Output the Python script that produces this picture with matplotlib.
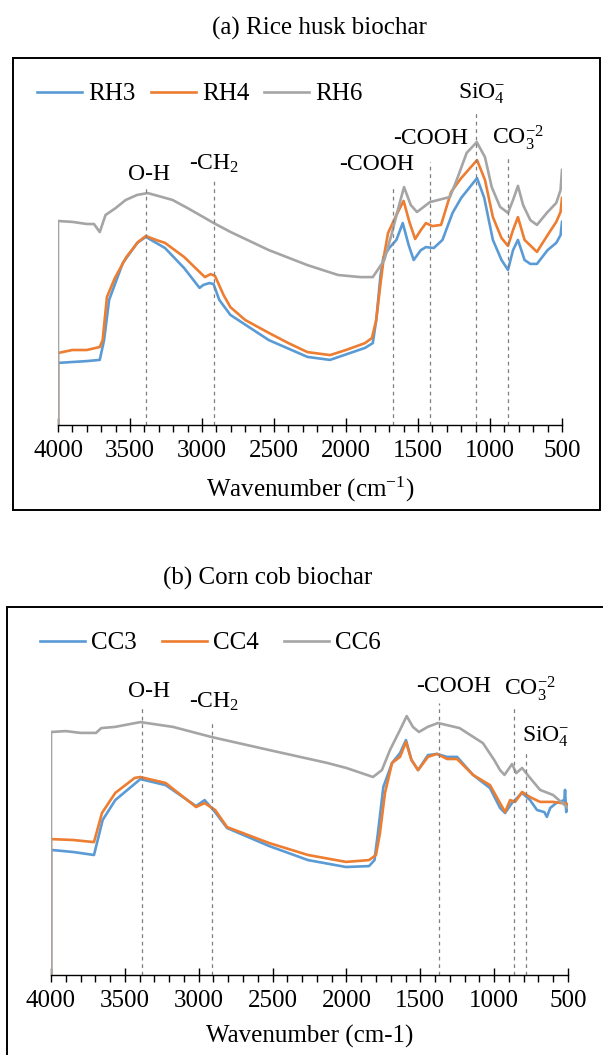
import matplotlib
matplotlib.use("Agg")
import matplotlib.pyplot as plt
from matplotlib.patches import Rectangle
from matplotlib.ticker import MultipleLocator

plt.rcParams['font.family'] = ['Liberation Serif', 'DejaVu Serif']
plt.rcParams['mathtext.fontset'] = 'custom'
plt.rcParams['mathtext.rm'] = 'Liberation Serif'
plt.rcParams['mathtext.it'] = 'Liberation Serif:italic'
plt.rcParams['mathtext.bf'] = 'Liberation Serif:bold'

# ---------------- data: (a) rice husk biochar ----------------
rh6_w = [4000, 4000, 3900, 3800, 3750, 3710, 3670, 3600, 3530, 3450, 3377, 3300, 3204, 3100, 2990, 2918,
         2800, 2536, 2268, 2055, 1900, 1814, 1780, 1734, 1681, 1640, 1597, 1550, 1507, 1417, 1278, 1231,
         1162, 1092, 1035, 988, 930, 875, 840, 806, 770, 720, 674, 600, 540, 510, 500]
rh6_v = [0, 68, 67.7, 67, 67, 64.3, 70, 72.3, 75, 76.7, 77.3, 76.3, 75, 72.3, 69.3, 67.3,
         64.3, 58.3, 53.3, 50, 49.3, 49.3, 51.7, 55, 64, 71.7, 79.3, 73.3, 71, 74.3, 76, 81.7,
         90.7, 94.3, 89.3, 79.3, 72.7, 70.7, 75, 79.7, 73.3, 68.3, 66.7, 71, 74, 78.3, 85]

rh4_w = [4000, 4000, 3900, 3800, 3710, 3690, 3660, 3605, 3525, 3444, 3390, 3320, 3257, 3124, 3017, 2980,
         2940, 2910, 2850, 2803, 2700, 2536, 2400, 2268, 2111, 2000, 1868, 1820, 1790, 1760, 1735, 1708,
         1650, 1600, 1560, 1520, 1480, 1445, 1400, 1340, 1270, 1200, 1090, 1035, 980, 920, 875, 840,
         806, 760, 674, 600, 540, 510, 500]
rh4_v = [0, 24, 25, 25, 26, 28.3, 42.7, 49, 56, 61, 63, 61.7, 60.7, 56, 51, 49.3,
         50.3, 49.7, 43.3, 39.3, 35, 30.7, 27.3, 24.3, 23.3, 25, 27.3, 29, 35, 47.3, 56.7, 64,
         70, 74.7, 67.7, 62, 65, 67.3, 66.3, 66.7, 77.7, 82.3, 88.3, 81.7, 69.3, 62.3, 59.7, 65,
         69.3, 61.7, 57.7, 63.3, 67.7, 71, 75.7]

rh3_w = [4000, 4000, 3900, 3800, 3710, 3680, 3645, 3550, 3450, 3390, 3257, 3124, 3017, 2990, 2950, 2920,
         2880, 2803, 2536, 2268, 2111, 1868, 1814, 1790, 1760, 1740, 1700, 1650, 1606, 1565, 1530, 1480,
         1445, 1390, 1330, 1260, 1200, 1090, 1040, 980, 920, 875, 840, 806, 760, 720, 674, 600,
         540, 510, 500]
rh3_v = [0, 20.7, 21, 21.3, 21.7, 28.3, 41.7, 54, 60.7, 62.7, 59, 52.3, 45.7, 46.7, 47.3, 47,
         41.7, 36.7, 28.3, 22.7, 21.7, 25.7, 27.3, 35, 50, 56, 59, 61.7, 67.3, 60, 55, 58.3,
         59.3, 59, 61.7, 70.7, 75.7, 82.3, 75.7, 61.7, 55, 51.7, 58.3, 61.7, 55, 53.7, 53.7, 58.3,
         60.7, 63.3, 67.7]

# ---------------- data: (b) corn cob biochar ----------------
cc6_w = [4000, 4000, 3900, 3800, 3695, 3660, 3567, 3395, 3174, 2911, 2524, 2314, 2131, 2000, 1820, 1760,
         1705, 1637, 1592, 1550, 1509, 1450, 1380, 1234, 1076, 1000, 960, 930, 879, 850, 811, 757,
         689, 601, 500]
cc6_v = [0, 81, 81.3, 80.7, 80.7, 82.3, 82.7, 84.3, 82.7, 79.3, 75, 72.7, 70.7, 69, 66, 68.3,
         75, 81.7, 86.3, 82.7, 81, 82.7, 84, 82.3, 77.3, 71.7, 68.3, 66.7, 70.3, 67.3, 69, 65.7,
         61.7, 60, 55.7]

cc4_w = [4000, 4000, 3850, 3709, 3655, 3565, 3433, 3395, 3224, 3018, 2960, 2889, 2808, 2524, 2260, 2003,
         1847, 1800, 1773, 1739, 1691, 1637, 1597, 1560, 1515, 1448, 1387, 1319, 1251, 1143, 1028, 960,
         926, 892, 858, 811, 757, 689, 601, 500]
cc4_v = [0, 45.3, 45, 44.3, 54, 60.7, 65.7, 66, 64, 56, 57.3, 55, 49.3, 44, 40, 37.7,
         38.3, 40, 47.3, 60.7, 70.7, 72.7, 77.7, 71.7, 68.3, 72.7, 73.7, 72, 72, 66.7, 63.3, 57.3,
         54.3, 58.3, 57.7, 61, 59.3, 57.7, 57.7, 57]

cc3_w = [4000, 4000, 3850, 3709, 3650, 3565, 3395, 3224, 3018, 2960, 2889, 2808, 2524, 2260, 2003, 1847,
         1810, 1787, 1750, 1691, 1637, 1597, 1560, 1515, 1448, 1387, 1319, 1251, 1143, 1028, 960, 926,
         880, 811, 757, 710, 660, 643, 620, 580, 525, 520, 512, 500]
cc3_v = [0, 41.7, 41, 40, 51.7, 58.3, 65.3, 63.3, 56.3, 58.3, 54.3, 49, 43, 38.3, 36, 36.3,
         38.3, 47.3, 62.7, 70.7, 74, 78.3, 71.7, 68.3, 73.3, 73.7, 72.7, 72.7, 66.7, 62.3, 55.7, 54,
         57.3, 60.7, 58.3, 55, 54.3, 52.7, 55.7, 57.3, 58.3, 61.7, 54.3, 56.7]

# annotations: label, text x (cm-1), text baseline, dashed-line x, dashed-line top
a_labels = ["O-H", "-CH$_2$", "-COOH", "-COOH", "SiO$_4^{-}$", "CO$_3^{-2}$"]
a_text_x = [3368, 2917, 1785, 1410, 1056, 806]
a_text_y = [81.7, 85, 85, 93.7, 109, 93.7]
a_line_x = [3390, 2920, 1674, 1417, 1095, 875]
a_line_top = [79, 82.3, 79.3, 87.7, 105, 89.3]

b_labels = ["O-H", "-CH$_2$", "-COOH", "CO$_3^{-2}$", "SiO$_4^{-}$"]
b_text_x = [3336, 2896, 1278, 757, 649]
b_text_y = [92.7, 89, 94.3, 93.3, 77.7]
b_line_x = [3387, 2913, 1373, 865, 784]
b_line_top = [89, 85, 90.7, 89.3, 74.3]

BLUE, ORANGE, GRAY = '#5B9BD5', '#ED7D31', '#A5A5A5'
W, H = 603, 1055
FS = 18      # tick labels, axis label, legend, title
FS_ANN = 17  # peak annotations

fig = plt.figure(figsize=(W / 100, H / 100), dpi=100)


def fx(px):
    return px / W


def fy(py):
    return 1 - py / H


def panel(left, right, bottom, top, series, labels, tx, ty, lx, ltop, xlabel,
          leg_xy, colsp, title, title_xy, box):
    ax = fig.add_axes([fx(left), fy(bottom), fx(right) - fx(left), (bottom - top) / H])
    for (w, v, c, lab) in series:
        ax.plot(w, v, color=c, lw=1.9, label=lab, solid_joinstyle='round')
    ax.set_xlim(4000, 500)
    ax.set_ylim(0, (bottom - top) / 3.0)
    for s in ['top', 'right', 'left']:
        ax.spines[s].set_visible(False)
    ax.spines['bottom'].set_color('black')
    ax.spines['bottom'].set_linewidth(1.0)
    ax.set_yticks([])
    ax.xaxis.set_major_locator(MultipleLocator(500))
    ax.xaxis.set_minor_locator(MultipleLocator(100))
    ax.tick_params(axis='x', which='major', direction='inout', length=10, width=1.0,
                   labelsize=FS, pad=6)
    ax.tick_params(axis='x', which='minor', direction='out', length=5, width=1.0)
    ax.set_xticks([4000, 3500, 3000, 2500, 2000, 1500, 1000, 500])
    ax.set_xticklabels(['4000', '3500', '3000', '2500', '2000', '1500', '1000', '500'])
    ax.set_xlabel(xlabel, fontsize=FS)
    ax.xaxis.set_label_coords(0.5, -50 / (bottom - top))
    ax.patch.set_alpha(0)
    ax.vlines(lx, 0, ltop, colors='#7F7F7F', linestyles=(0, (3, 3)), lw=0.9)
    for lab, x, y in zip(labels, tx, ty):
        ax.text(x, y, lab, fontsize=FS_ANN, ha='center', va='baseline', clip_on=False)
    ax.legend(loc='center left', bbox_to_anchor=(fx(leg_xy[0]), fy(leg_xy[1])),
              bbox_transform=fig.transFigure, ncol=3, frameon=False, fontsize=FS,
              handlelength=1.8, handletextpad=0.25, columnspacing=colsp,
              borderpad=0, borderaxespad=0)
    fig.text(fx(title_xy[0]), fy(title_xy[1]), title, fontsize=FS, ha='left', va='center')
    x0, y0, x1, y1 = box
    fig.patches.append(Rectangle((fx(x0), fy(y1)), fx(x1) - fx(x0), (y1 - y0) / H,
                                 transform=fig.transFigure, fill=False, ec='black', lw=1.4))
    return ax


panel(58, 562, 425, 75,
      [(rh3_w, rh3_v, BLUE, 'RH3'), (rh4_w, rh4_v, ORANGE, 'RH4'), (rh6_w, rh6_v, GRAY, 'RH6')],
      a_labels, a_text_x, a_text_y, a_line_x, a_line_top,
      'Wavenumber (cm$^{\\mathrm{-1}}$)', (37, 94), 0.6,
      '(a) Rice husk biochar', (212, 28), (13, 58, 600, 510))

panel(51, 568, 975, 640,
      [(cc3_w, cc3_v, BLUE, 'CC3'), (cc4_w, cc4_v, ORANGE, 'CC4'), (cc6_w, cc6_v, GRAY, 'CC6')],
      b_labels, b_text_x, b_text_y, b_line_x, b_line_top,
      'Wavenumber (cm-1)', (40, 643), 1.0,
      '(b) Corn cob biochar', (163, 578), (7, 607, 615, 1070))

fig.savefig('out.png', dpi=100)
